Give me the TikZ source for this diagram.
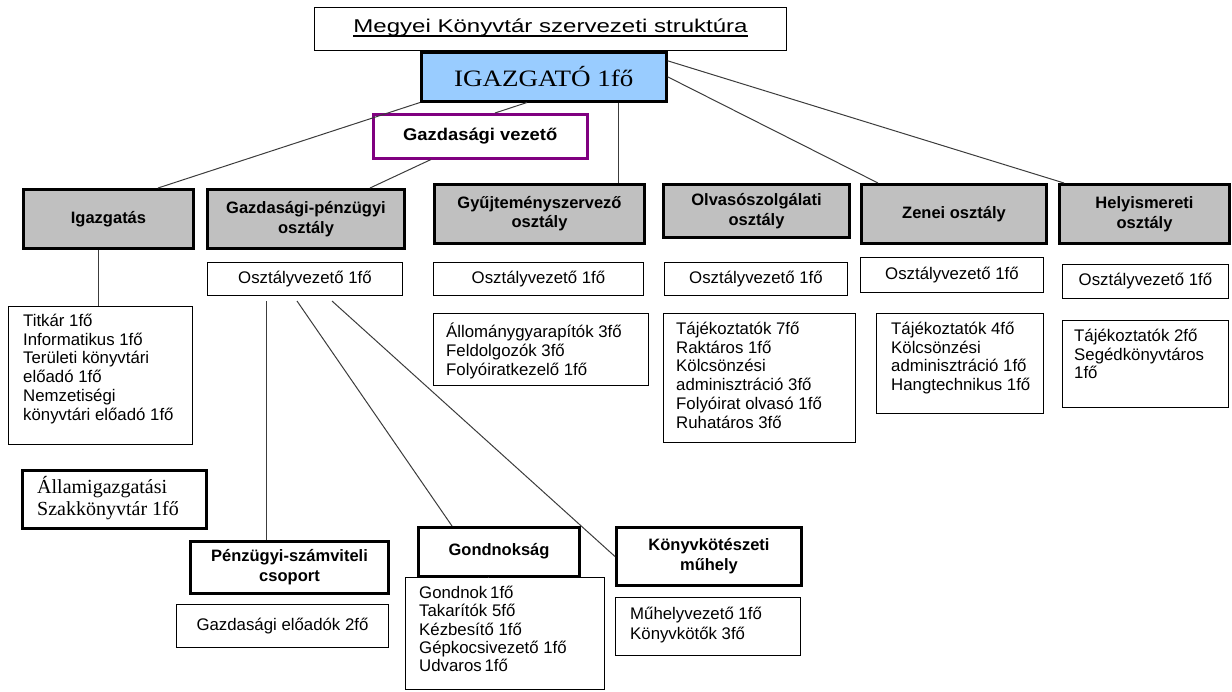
\documentclass[tikz,border=0pt]{standalone}
\usepackage{fontspec}
\usepackage{graphicx}
\setmainfont{Liberation Sans}
\newfontfamily\myserif{Liberation Serif}
\usetikzlibrary{calc}
\definecolor{deptgray}{RGB}{192,192,192}
\definecolor{bossblue}{RGB}{153,204,255}
\definecolor{mgrpurple}{RGB}{128,0,128}
\definecolor{linegray}{RGB}{60,60,60}
\newcommand\fsz[2]{\fontsize{#1}{#2}\selectfont}
\tikzset{
  conn/.style={draw=linegray, line width=1pt},
  thinbox/.style={draw=black, line width=1pt, fill=white, inner sep=0pt, anchor=north west},
  thickbox/.style={draw=black, line width=3pt, fill=white, inner sep=0pt, anchor=north west, align=center, font=\bfseries\fsz{16.5}{20}},
  dept/.style={thickbox, fill=deptgray},
  ovbox/.style={thinbox, font=\fsz{16.8}{19}},
  txt/.style={inner sep=0pt, align=left, anchor=north west, font=\fsz{16.8}{18.7}},
}
\begin{document}
\begin{tikzpicture}[x=1pt,y=-1pt]
\useasboundingbox (0,0) rectangle (1232,691);
% top
\node[thinbox, minimum width=472pt, minimum height=43pt] (title) at (314,7) {};
\node[inner sep=0pt, font=\fsz{18.5}{22}] (titlet) at ([yshift=1pt]title.center) {\scalebox{1.3}[1]{Megyei Könyvtár szervezeti struktúra}};
\draw[line width=1.8pt] ([yshift=-3.5pt]titlet.base west) -- ([yshift=-3.5pt]titlet.base east);
\node[thinbox, line width=2.5pt, fill=bossblue, minimum width=245pt, minimum height=49pt, font=\myserif\fsz{23.5}{27}] (igaz) at (420,51) {\scalebox{1.15}[1]{IGAZGATÓ 1fő}\hspace{12pt}};
\node[thinbox, draw=mgrpurple, line width=2.5pt, minimum width=214pt, minimum height=44pt, font=\bfseries\fsz{17}{20}] (gv) at (372,113) {\scalebox{1.08}[1]{Gazdasági vezető}};
% departments
\node[dept, minimum width=170pt, minimum height=59pt] (igazgatas) at (22,188) {Igazgatás};
\node[dept, minimum width=197pt, minimum height=59pt] (gp) at (206,188) {Gazdasági-pénzügyi\\osztály};
\node[dept, minimum width=210pt, minimum height=59pt] (gyujt) at (433,183) {\raisebox{3pt}{\begin{tabular}{@{}c@{}}Gyűjteményszervező\\[-1pt]osztály\end{tabular}}};
\node[dept, minimum width=186pt, minimum height=53pt] (olvas) at (662,183) {Olvasószolgálati\\osztály};
\node[dept, minimum width=185pt, minimum height=59pt] (zenei) at (860,183) {Zenei osztály};
\node[dept, minimum width=170pt, minimum height=59pt] (helyism) at (1058,183) {Helyismereti\\osztály};
% osztályvezetők
\node[ovbox, minimum width=195pt, minimum height=33pt] (ov1) at (207,262) {Osztályvezető 1fő};
\node[ovbox, minimum width=210pt, minimum height=33pt] (ov2) at (433,262) {Osztályvezető 1fő};
\node[ovbox, minimum width=183pt, minimum height=33pt] (ov3) at (664,262) {Osztályvezető 1fő};
\node[ovbox, minimum width=183pt, minimum height=35pt] (ov4) at (860,257) {Osztályvezető 1fő};
\node[ovbox, minimum width=166pt, minimum height=34pt] (ov5) at (1062,264) {Osztályvezető 1fő};
% detail boxes
\node[thinbox, minimum width=184pt, minimum height=138pt] (titkar) at (8,306) {};
\node[txt] (titkart) at ([xshift=15pt,yshift=-8pt]titkar.north west) {Titkár 1fő\\Informatikus 1fő\\Területi könyvtári\\előadó 1fő\\Nemzetiségi\\könyvtári előadó 1fő};
\node[thinbox, minimum width=215pt, minimum height=72pt] (d2) at (433,313) {};
\node[txt] (d2t) at ([xshift=13pt,yshift=-10pt]d2.north west) {Állománygyarapítók 3fő\\Feldolgozók 3fő\\Folyóiratkezelő 1fő};
\node[thinbox, minimum width=192pt, minimum height=129pt] (d3) at (663,313) {};
\node[txt] (d3t) at ([xshift=13pt,yshift=-9pt]d3.north west) {Tájékoztatók 7fő\\Raktáros 1fő\\Kölcsönzési\\adminisztráció 3fő\\Folyóirat olvasó 1fő\\Ruhatáros 3fő};
\node[thinbox, minimum width=167pt, minimum height=100pt] (d4) at (876,313) {};
\node[txt] (d4t) at ([xshift=15pt,yshift=-9pt]d4.north west) {Tájékoztatók 4fő\\Kölcsönzési\\adminisztráció 1fő\\Hangtechnikus 1fő};
\node[thinbox, minimum width=166pt, minimum height=87pt] (d5) at (1062,320) {};
\node[txt] (d5t) at ([xshift=12pt,yshift=-9pt]d5.north west) {Tájékoztatók 2fő\\Segédkönyvtáros\\1fő};
% Államigazgatási
\node[thickbox, minimum width=184pt, minimum height=58pt] (allam) at (21,469) {};
\node[inner sep=0pt, anchor=west, align=left, font=\myserif\fsz{20}{22}] (allamt) at ([xshift=16pt,yshift=1pt]allam.west) {Államigazgatási\\Szakkönyvtár 1fő};
% lower groups
\node[thickbox, minimum width=198pt, minimum height=52pt] (penz) at (189,540) {Pénzügyi-számviteli\\csoport};
\node[thinbox, minimum width=212pt, minimum height=43pt, font=\fsz{16.8}{19}] (gazdel) at (176,604) {Gazdasági előadók 2fő};
\node[thickbox, minimum width=161pt, minimum height=49pt] (gond) at (417,526) {\raisebox{6pt}{Gondnokság}};
\node[thinbox, minimum width=199pt, minimum height=112pt] (gondd) at (405,577) {};
\node[txt, font=\fsz{16.8}{18.3}] (gonddt) at ([xshift=14pt,yshift=-9pt]gondd.north west) {Gondnok\,1fő\\Takarítók 5fő\\Kézbesítő 1fő\\Gépkocsivezető 1fő\\Udvaros\,1fő};
\node[thickbox, minimum width=185pt, minimum height=58pt] (konyv) at (615,526) {Könyvkötészeti\\műhely};
\node[thinbox, minimum width=185pt, minimum height=58pt] (konyvd) at (615,597) {};
\node[txt, font=\fsz{16.8}{20}] (konyvdt) at ([xshift=15pt,yshift=-10pt]konyvd.north west) {Műhelyvezető 1fő\\Könyvkötők 3fő};
% connectors
\draw[conn] (igaz.south west) -- ([xshift=136pt]igazgatas.north west);
\draw[conn] ([xshift=107pt]igaz.south west) -- ([xshift=123pt]gv.north west);
\draw[conn] ([xshift=59pt]gv.south west) -- ([xshift=164pt]gp.north west);
\draw[conn] ([xshift=198pt]igaz.south west) -- ([xshift=185pt]gyujt.north west);
\draw[conn] (igaz.east) -- ([xshift=18pt]zenei.north west);
\draw[conn] ([yshift=16pt]igaz.east) -- ([xshift=6pt]helyism.north west);
\draw[conn] ([xshift=76pt]igazgatas.south west) -- ([xshift=90pt]titkar.north west);
\draw[conn] ([xshift=59pt,yshift=-5pt]ov1.south west) -- ([xshift=77pt]penz.north west);
\draw[conn] ([xshift=90pt,yshift=-5pt]ov1.south west) -- ([xshift=35pt]gond.north west);
\draw[conn] ([xshift=125pt,yshift=-5pt]ov1.south west) -- (konyv.west);
\draw[conn] ([xshift=71pt]gond.south west) -- ([xshift=83pt]gondd.north west);
\end{tikzpicture}
\end{document}
